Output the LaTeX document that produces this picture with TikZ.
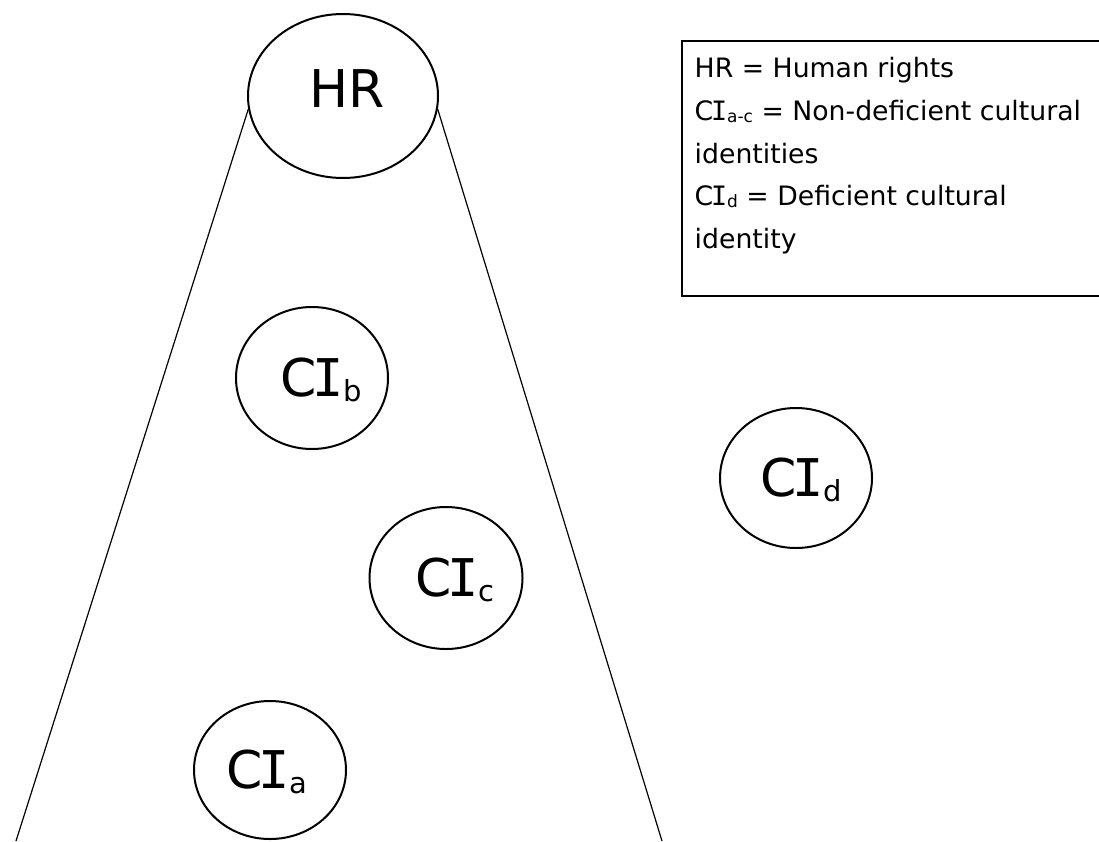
\documentclass[tikz,border=0pt]{standalone}
\usepackage{fontspec}
\setmainfont{DejaVu Sans}
\newfontfamily\monof{DejaVu Sans Mono}
\usetikzlibrary{shapes.geometric}
\newcommand\SI{\kern-0.085em{\monof I}}
\newcommand\bigsub[1]{\raisebox{-5pt}{\fontsize{29}{29}\selectfont #1}}
\newcommand\legsub[1]{\raisebox{-2pt}{\fontsize{17}{17}\selectfont #1}}
\begin{document}
\begin{tikzpicture}[x=1pt,y=-1pt,
  bubble/.style={draw, ellipse, line width=2pt, inner sep=0pt, font=\fontsize{52}{52}\selectfont, text height=37pt, text depth=0pt},
  ray/.style={line width=1.2pt},
  legline/.style={anchor=base west, inner sep=0pt, font=\fontsize{26.7}{26.7}\selectfont},
  legbox/.style={draw, line width=2pt, anchor=north west, inner sep=0pt}]
\useasboundingbox (0,0) rectangle (1099,841);
\clip (0,0) rectangle (1099,841);
% legend frame (right side runs off the picture)
\node[legbox, minimum width=440pt, minimum height=255pt] (legend) at (681,40) {};
\node[legline] (leg1) at (694.5,77) {HR = Human rights};
\node[legline] (leg2) at (694.5,120) {C\SI\legsub{a-c} = Non-deficient cultural};
\node[legline] (leg3) at (694.5,163) {identities};
\node[legline] (leg4) at (694.5,205) {C\SI\legsub{d} = Deficient cultural};
\node[legline] (leg5) at (694.5,248) {identity};
% bubbles
\node[bubble, minimum width=190pt, minimum height=164pt, text depth=14pt] (HR) at (343,96) {\hspace*{8pt}HR};
\node[bubble, minimum width=152pt, minimum height=142pt] (CIb) at (312,378) {\hspace*{18pt}C\SI\bigsub{b}};
\node[bubble, minimum width=153pt, minimum height=142pt] (CIc) at (446,578) {\hspace*{18pt}C\SI\bigsub{c}};
\node[bubble, minimum width=152pt, minimum height=138pt] (CIa) at (270,770) {C\SI\bigsub{a}\hspace*{6pt}};
\node[bubble, minimum width=152pt, minimum height=140pt] (CId) at (796,478) {\hspace*{10pt}C\SI\bigsub{d}};
% rays from HR
\coordinate (bl) at (16,841);
\coordinate (br) at (662,841);
\draw[ray] (HR.188) -- (bl);
\draw[ray] (HR.352) -- (br);
\end{tikzpicture}
\end{document}
